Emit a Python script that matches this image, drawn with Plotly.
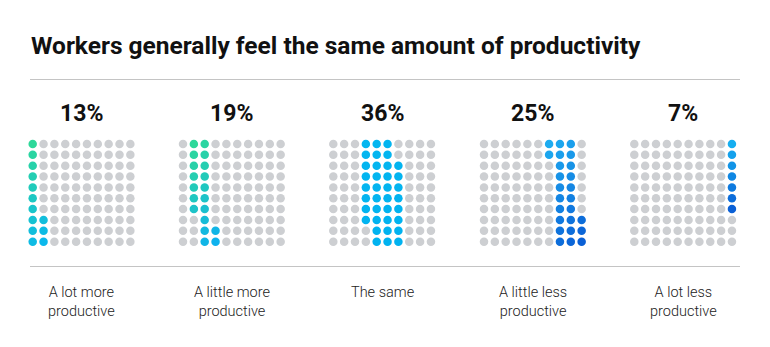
import plotly.graph_objects as go

# ---- data ----
categories = ["A lot more<br>productive", "A little more<br>productive", "The same",
              "A little less<br>productive", "A lot less<br>productive"]
values = [13, 19, 36, 25, 7]
pct_labels = ["13%", "19%", "36%", "25%", "7%"]
title = "Workers generally feel the same amount of productivity"

# ---- styles ----
grad_start = ["#2ed89a", "#2ed89a", "#04b6f0", "#1eacf0", "#16aef0"]
grad_end = ["#0bb8ec", "#0eb2ee", "#00b2f0", "#0a60d6", "#0a60d6"]
GRAY = "#cdcfd2"
FONT = "Roboto"

W, H = 770, 347
grid_x0 = [32.7, 183.0, 333.3, 484.0, 634.3]
step = 10.85
grid_y0 = 144.0
dot_size = 8.5


def hex2rgb(h):
    h = h.lstrip("#")
    return tuple(int(h[i:i + 2], 16) for i in (0, 2, 4))


def mix(a, b, t):
    ra, rb = hex2rgb(a), hex2rgb(b)
    return "rgb(%d,%d,%d)" % tuple(round(ra[i] + (rb[i] - ra[i]) * t) for i in range(3))


fig = go.Figure()

cum = 0
for k, v in enumerate(values):
    filled = set(range(cum, cum + v))
    cum += v
    gx, gy, cx, cy, cols = [], [], [], [], []
    fdots = []
    for i in range(100):
        col = i // 10
        row_top = 9 - (i % 10)
        x = grid_x0[k] + col * step
        y = grid_y0 + row_top * step
        if i in filled:
            fdots.append((x, y, col + row_top))
        else:
            gx.append(x)
            gy.append(y)
    ds = [d for _, _, d in fdots]
    dmin, dmax = min(ds), max(ds)
    for x, y, d in fdots:
        t = 0 if dmax == dmin else (d - dmin) / (dmax - dmin)
        cx.append(x)
        cy.append(y)
        cols.append(mix(grad_start[k], grad_end[k], t))
    fig.add_trace(go.Scatter(x=gx, y=gy, mode="markers",
                             marker=dict(size=dot_size, color=GRAY), hoverinfo="skip"))
    fig.add_trace(go.Scatter(x=cx, y=cy, mode="markers",
                             marker=dict(size=dot_size, color=cols), hoverinfo="skip"))
    center = grid_x0[k] + 4.5 * step
    fig.add_annotation(x=center, y=113, text=pct_labels[k], showarrow=False,
                       xanchor="center", yanchor="middle",
                       font=dict(family=FONT, size=23, color="#111111", weight="bold"))
    fig.add_annotation(x=center, y=281.5, text=categories[k], showarrow=False,
                       xanchor="center", yanchor="top", align="center",
                       font=dict(family=FONT, size=14.5, color="#222222", weight=300))

fig.add_annotation(x=29, y=45, text=title, showarrow=False, xanchor="left", yanchor="middle",
                   font=dict(family=FONT, size=24.5, color="#111111", weight="bold"))

for yy in (79.5, 266.5):
    fig.add_shape(type="line", x0=30, x1=740, y0=yy, y1=yy, xref="x", yref="y",
                  line=dict(color="#c4c4c4", width=1))

fig.update_layout(width=W, height=H, margin=dict(l=0, r=0, t=0, b=0),
                  paper_bgcolor="white", plot_bgcolor="white", showlegend=False,
                  xaxis=dict(range=[0, W], visible=False, fixedrange=True),
                  yaxis=dict(range=[H, 0], visible=False, fixedrange=True))

fig.write_html("out.html")
